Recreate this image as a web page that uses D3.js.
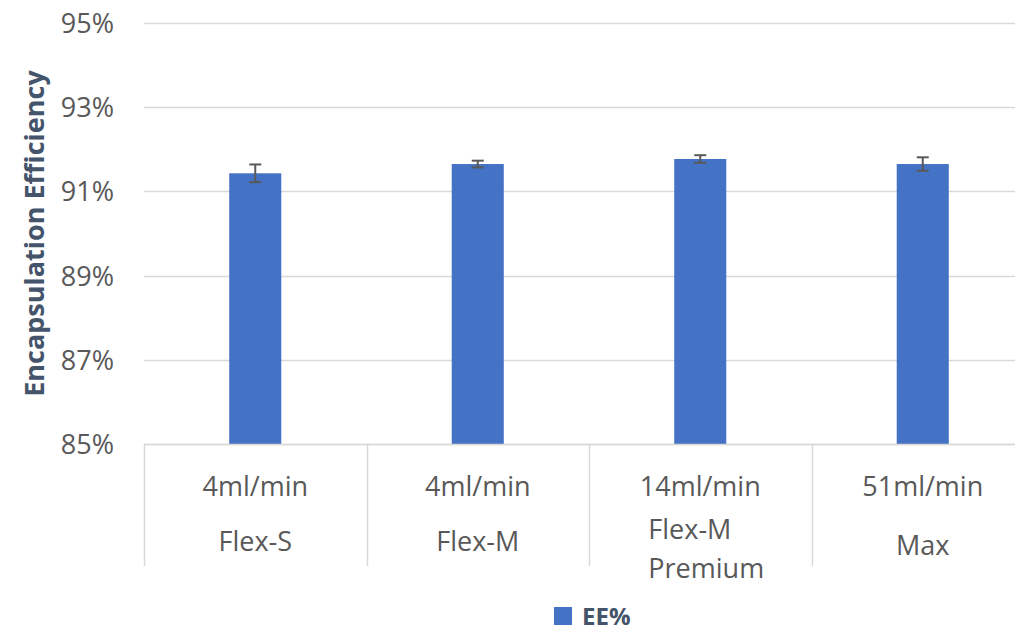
<!DOCTYPE html>
<html>
<head>
<meta charset="utf-8">
<script src="https://cdn.jsdelivr.net/npm/d3@7"></script>
<style>
  body { margin: 0; background: #fff; }
  svg { font-family: "Open Sans", sans-serif; }
</style>
</head>
<body>
<div id="chart"></div>
<script>
// chart data
const rates = ['4ml/min', '4ml/min', '14ml/min', '51ml/min'];
const models = [['Flex-S'], ['Flex-M'], ['Flex-M', 'Premium'], ['Max']];
const eeValues = [0.9143, 0.9165, 0.9177, 0.9165];
const eeErrors = [0.0021, 0.0008, 0.0009, 0.0016];
const yTicks = [0.85, 0.87, 0.89, 0.91, 0.93, 0.95];
const seriesName = 'EE%';

const W = 1015, H = 634;
const barColor = '#4472C4';
const gridColor = '#d9d9d9';
const textColor = '#595959';
const titleColor = '#44546A';

const svg = d3.select('#chart').append('svg')
    .attr('width', W)
    .attr('height', H);

const keys = rates.map((r, i) => i);

const x = d3.scaleBand()
    .domain(keys)
    .range([144, 1034])
    .padding(0);

const y = d3.scaleLinear()
    .domain([0.85, 0.95])
    .range([444, 23]);

// gridlines
svg.append('g')
    .selectAll('line')
    .data(yTicks)
    .enter()
    .append('line')
    .attr('x1', 144)
    .attr('x2', W)
    .attr('y1', d => Math.round(y(d)) + 0.5)
    .attr('y2', d => Math.round(y(d)) + 0.5)
    .attr('stroke', gridColor)
    .attr('stroke-width', 1.5);

// y tick labels
svg.append('g')
    .selectAll('text')
    .data(yTicks)
    .enter()
    .append('text')
    .attr('x', 114)
    .attr('y', d => y(d) + 10)
    .attr('text-anchor', 'end')
    .attr('fill', textColor)
    .style('font-size', '27px')
    .text(d => d3.format('.0%')(d));

// y title
svg.append('text')
    .attr('transform', `translate(44, ${y(0.9)}) rotate(-90)`)
    .attr('text-anchor', 'middle')
    .attr('fill', titleColor)
    .style('font-size', '27px')
    .style('font-weight', 'bold')
    .text('Encapsulation Efficiency');

// bars
const barW = x.bandwidth() * 0.234;
svg.append('g')
    .selectAll('rect')
    .data(keys)
    .enter()
    .append('rect')
    .attr('x', i => x(i) + x.bandwidth() / 2 - barW / 2)
    .attr('width', barW)
    .attr('y', i => y(eeValues[i]))
    .attr('height', i => y(0.85) - y(eeValues[i]))
    .attr('fill', barColor);

// error bars
const errG = svg.append('g')
    .attr('stroke', '#595959')
    .attr('stroke-width', 2);
keys.forEach(i => {
    const cx = x(i) + x.bandwidth() / 2;
    const y1 = y(eeValues[i] + eeErrors[i]);
    const y2 = y(eeValues[i] - eeErrors[i]);
    errG.append('line').attr('x1', cx).attr('x2', cx).attr('y1', y1).attr('y2', y2);
    errG.append('line').attr('x1', cx - 6).attr('x2', cx + 6).attr('y1', y1).attr('y2', y1);
    errG.append('line').attr('x1', cx - 6).attr('x2', cx + 6).attr('y1', y2).attr('y2', y2);
});

// category axis line and dividers
svg.append('line')
    .attr('x1', 144).attr('x2', W)
    .attr('y1', 444.5).attr('y2', 444.5)
    .attr('stroke', gridColor)
    .attr('stroke-width', 1.5);

svg.append('g')
    .selectAll('line')
    .data(keys)
    .enter()
    .append('line')
    .attr('x1', i => Math.round(x(i)) + 0.5)
    .attr('x2', i => Math.round(x(i)) + 0.5)
    .attr('y1', 444)
    .attr('y2', 566)
    .attr('stroke', gridColor)
    .attr('stroke-width', 1.5);

// category labels
const lab = svg.append('g')
    .attr('fill', textColor)
    .style('font-size', '27px');

keys.forEach(i => {
    const cx = x(i) + x.bandwidth() / 2;
    lab.append('text')
        .attr('x', cx)
        .attr('y', 496)
        .attr('text-anchor', 'middle')
        .text(rates[i]);

    const lines = models[i];
    if (lines.length === 1) {
        lab.append('text')
            .attr('x', cx)
            .attr('y', i === 3 ? 555 : 551)
            .attr('text-anchor', 'middle')
            .text(lines[0]);
    } else {
        const t = lab.append('text');
        lines.forEach((s, k) => {
            t.append('tspan')
                .attr('x', 0)
                .attr('y', 539 + k * 39)
                .text(s);
        });
        const w = t.node().getBBox().width;
        t.selectAll('tspan').attr('x', cx - w / 2 + 6);
    }
});

// legend
const leg = svg.append('g')
    .attr('transform', 'translate(554, 607)');
leg.append('rect')
    .attr('width', 18)
    .attr('height', 18)
    .attr('fill', barColor);
leg.append('text')
    .attr('x', 28)
    .attr('y', 18)
    .attr('fill', titleColor)
    .style('font-size', '24px')
    .style('font-weight', 'bold')
    .text(seriesName);
</script>
</body>
</html>
